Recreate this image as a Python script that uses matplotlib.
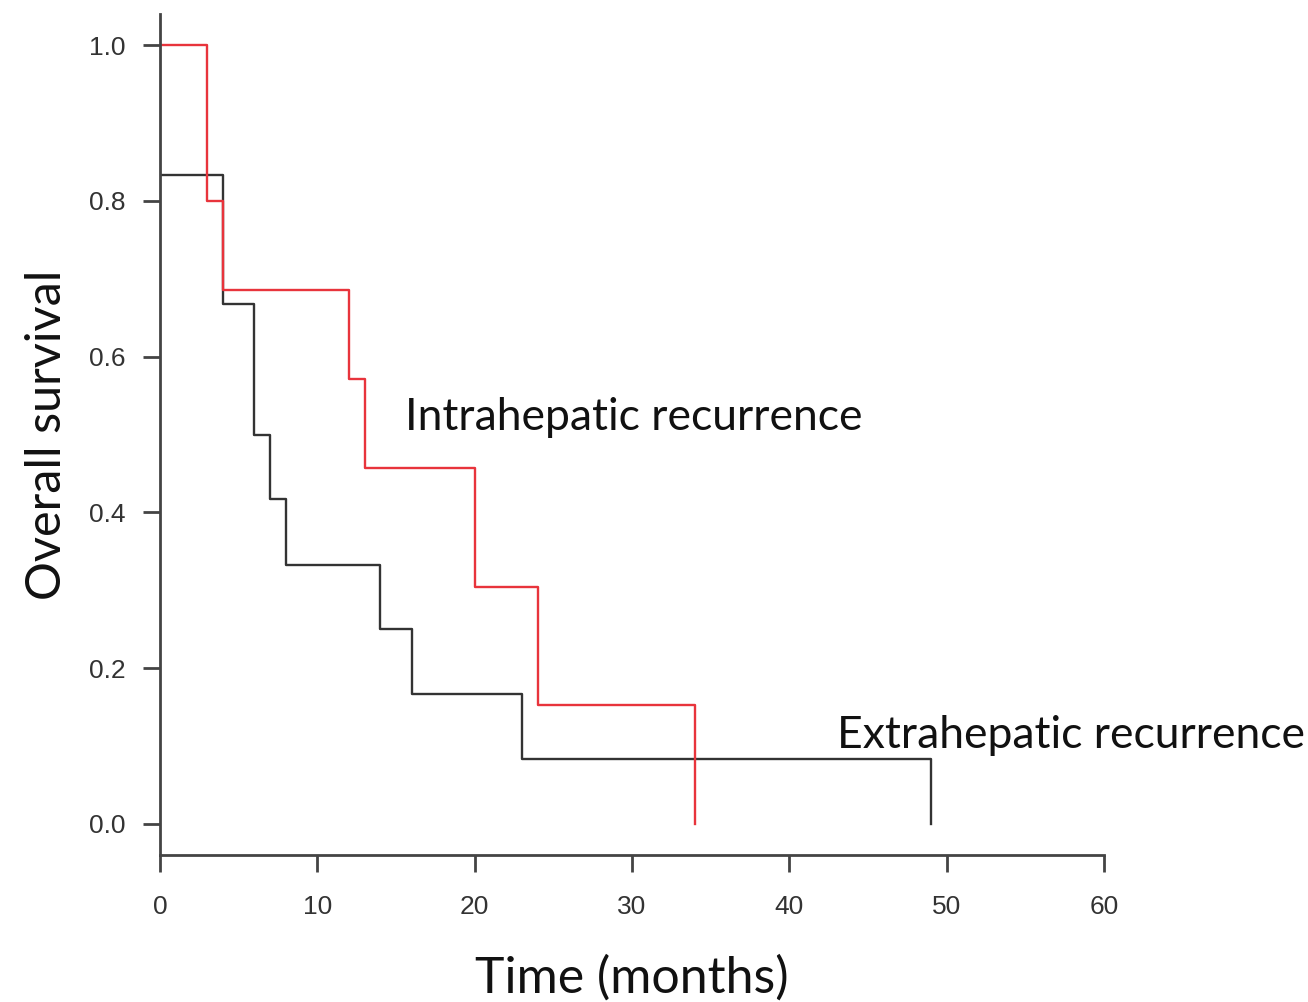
import matplotlib
matplotlib.use("Agg")
import matplotlib.pyplot as plt

# Data (Kaplan-Meier step curves)
intra_time = [0, 3, 4, 12, 13, 20, 24, 34]
intra_surv = [1.0, 0.8, 0.6857, 0.5714, 0.4571, 0.3048, 0.1524, 0.0]
extra_time = [0, 4, 6, 7, 8, 14, 16, 23, 49]
extra_surv = [0.833, 0.667, 0.5, 0.417, 0.333, 0.25, 0.167, 0.083, 0.0]
x_ticks = [0, 10, 20, 30, 40, 50, 60]
y_ticks = [0.0, 0.2, 0.4, 0.6, 0.8, 1.0]
y_ticklabels = ["0.0", "0.2", "0.4", "0.6", "0.8", "1.0"]

fig = plt.figure(figsize=(13.08, 10.02), dpi=100)
ax = fig.add_axes([160/1308, 1-855/1002, (1104-160)/1308, (855-14)/1002])

ax.step(extra_time, extra_surv, where="post", color="#333333", lw=1.7)
ax.step(intra_time, intra_surv, where="post", color="#e8343c", lw=1.7)

ax.set_xlim(0, 60)
ax.set_ylim(-0.04, 1.04)
for s in ["top", "right"]:
    ax.spines[s].set_visible(False)
for s in ["left", "bottom"]:
    ax.spines[s].set_color("#444444")
    ax.spines[s].set_linewidth(2.0)

tickfont = "Liberation Sans"
ax.set_xticks(x_ticks)
ax.set_xticklabels([str(v) for v in x_ticks], fontsize=19, family=tickfont, color="#333333")
ax.set_yticks(y_ticks)
ax.set_yticklabels(y_ticklabels, fontsize=19, family=tickfont, color="#333333")
ax.tick_params(axis="both", length=12, width=2.0, color="#444444")
ax.tick_params(axis="x", pad=17)
ax.tick_params(axis="y", pad=13)

labfont = "Lato"
ax.set_xlabel("Time (months)", fontsize=36, family=labfont, color="#111111", labelpad=26)
ax.set_ylabel("Overall survival", fontsize=35, family=labfont, color="#111111", labelpad=14)

ax.text(15.57, 0.522, "Intrahepatic recurrence", fontsize=32, family=labfont,
        color="#111111", va="center", ha="left", clip_on=False)
ax.text(43.0, 0.114, "Extrahepatic recurrence", fontsize=32, family=labfont,
        color="#111111", va="center", ha="left", clip_on=False)

fig.savefig("out.png", dpi=100, facecolor="white")
